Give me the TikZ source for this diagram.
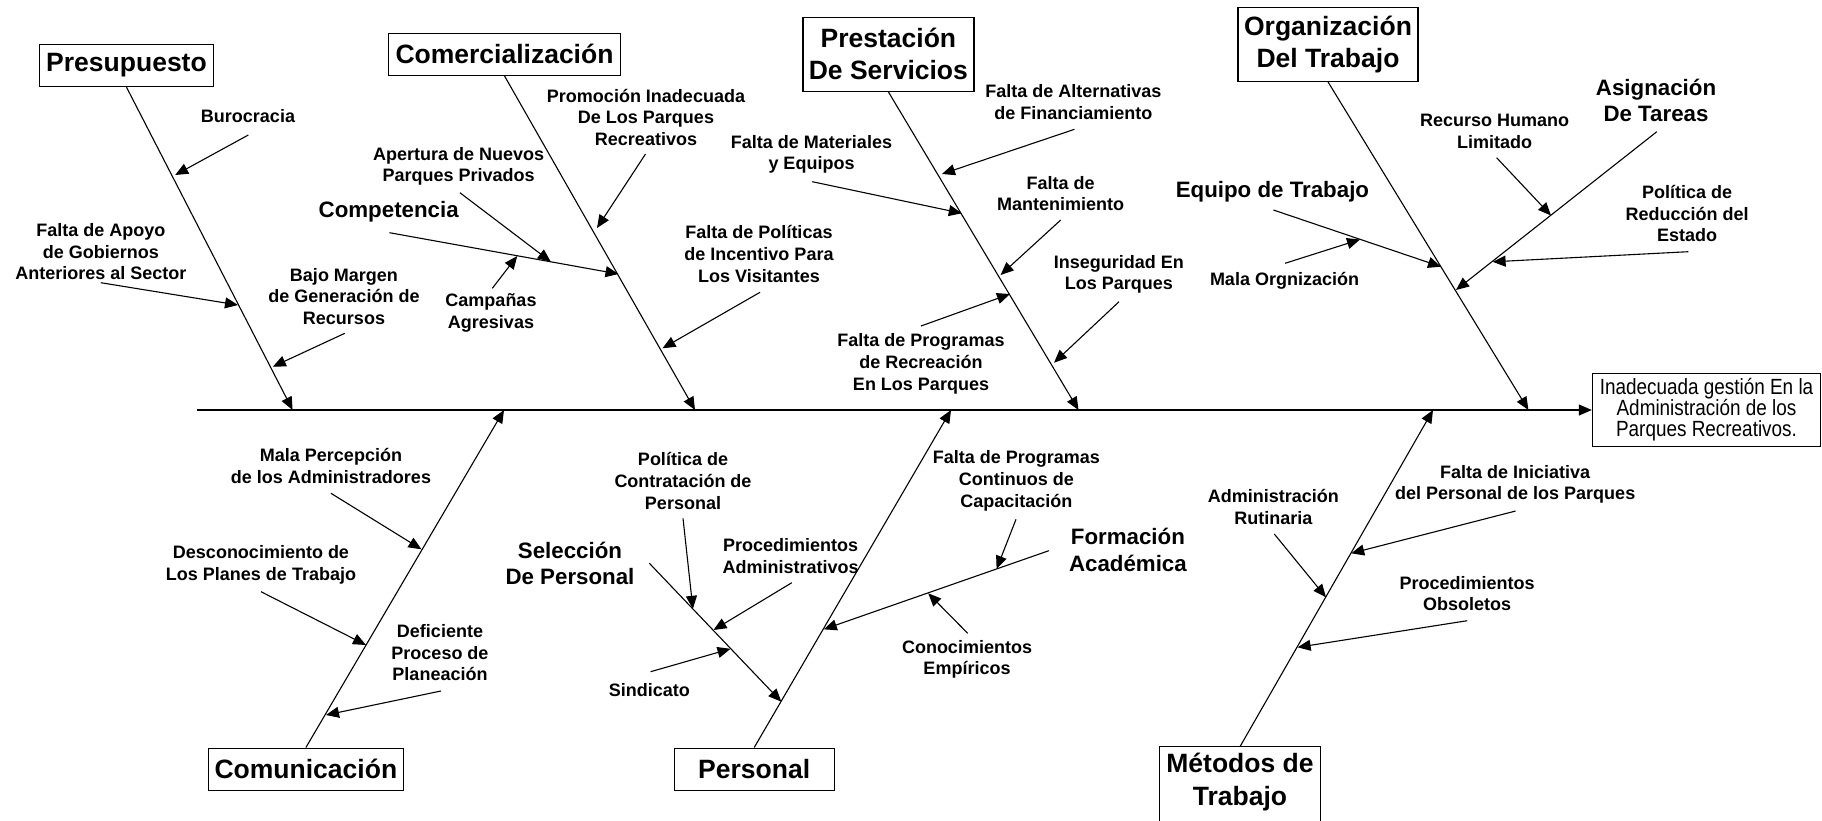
\documentclass[tikz,border=0pt]{standalone}
\usepackage{fontspec}
\setmainfont{Liberation Sans}
\newfontfamily\narrowfont[FakeStretch=0.86]{Liberation Sans}
\usetikzlibrary{arrows.meta}
\begin{document}
\begin{tikzpicture}[x=1pt,y=-1pt,
  catbox/.style={draw, line width=1.4pt, inner sep=0pt, align=center,
    font=\fontsize{26.5}{32}\selectfont\bfseries},
  subcat/.style={inner sep=0pt, align=center, font=\fontsize{22.3}{26.7}\selectfont\bfseries},
  cause/.style={inner sep=0pt, align=center, font=\fontsize{18}{21.7}\selectfont\bfseries},
  bone/.style={line width=1.1pt, -{Triangle[length=13pt,width=11pt]}},
]
\useasboundingbox (0,0) rectangle (1822,820);

% ---------- effect and spine ----------
\node[draw, line width=1.4pt, minimum width=228pt, minimum height=73pt, inner sep=0pt,
      align=center, font=\narrowfont\fontsize{22}{21}\selectfont] (eff) at (1706.5,410)
      {Inadecuada gestión En la\\Administración de los\\Parques Recreativos.};
\coordinate (spineStart) at (197,410);
\draw[bone] (spineStart) -- (eff.west);

% ---------- category boxes ----------
\node[catbox, minimum width=174pt, minimum height=42pt] (pres) at (126.5,65.5) {Presupuesto};
\node[catbox, minimum width=232pt, minimum height=42pt] (comer) at (504.5,54.2) {Comercialización};
\node[catbox, minimum width=171pt, minimum height=74pt] (prest) at (888.4,54.2) {Prestación\\De Servicios};
\node[catbox, minimum width=180pt, minimum height=74pt] (org) at (1328,44.2) {Organización\\Del Trabajo};
\node[catbox, minimum width=195pt, minimum height=42pt] (comu) at (305.9,769.2) {Comunicación};
\node[catbox, minimum width=160pt, minimum height=42pt] (pers) at (754.2,769.2) {Personal};
\node[catbox, draw=none, minimum width=160pt, minimum height=70pt, font=\fontsize{26.5}{33}\selectfont\bfseries]
      (met) at (1240,782.3) {Métodos de\\Trabajo};
\draw[line width=1.4pt] ([yshift=-30pt]met.south west) -- (met.north west) -- (met.north east)
      -- ([yshift=-30pt]met.south east);

% ---------- main bones ----------
\coordinate (presTip) at (292.6,410);
\coordinate (comerTip) at (695,410);
\coordinate (prestTip) at (1078.5,410);
\coordinate (orgTip) at (1528.4,410);
\coordinate (comuTip) at (504,410);
\coordinate (persTip) at (951,410);
\coordinate (metTip) at (1433,410);
\draw[bone] (pres.south) -- (presTip);
\draw[bone] (comer.south) -- (comerTip);
\draw[bone] (prest.south) -- (prestTip);
\draw[bone] (org.south) -- (orgTip);
\draw[bone] (comu.north) -- (comuTip);
\draw[bone] (pers.north) -- (persTip);
\draw[bone] (met.north) -- (metTip);

% ---------- Presupuesto ----------
\node[cause] (buro) at (248,116) {Burocracia};
\node[cause] (apoyo) at (100.8,251.7) {Falta de Apoyo\\de Gobiernos\\Anteriores al Sector};
\node[cause] (bajo) at (344,296.3) {Bajo Margen\\de Generación de\\Recursos};
\coordinate (buroA) at (248.3,135);   \coordinate (buroB) at (175.2,175);
\coordinate (apoyoA) at (100.8,282.7); \coordinate (apoyoB) at (238,305);
\coordinate (bajoA) at (344.8,333.3);  \coordinate (bajoB) at (272.8,366.7);
\draw[bone] (buroA) -- (buroB);
\draw[bone] (apoyoA) -- (apoyoB);
\draw[bone] (bajoA) -- (bajoB);

% ---------- Comercialización ----------
\node[cause] (promo) at (646,117.4) {Promoción Inadecuada\\De Los Parques\\Recreativos};
\node[cause] (apert) at (458.7,166.4) {Apertura de Nuevos\\Parques Privados};
\node[subcat] (compe) at (388.7,211.7) {Competencia};
\node[cause] (campa) at (491,313) {Campañas\\Agresivas};
\node[cause] (incent) at (759,254.1) {Falta de Políticas\\de Incentivo Para\\Los Visitantes};
\coordinate (promoA) at (645.5,154);   \coordinate (promoB) at (597,228);
\coordinate (apertA) at (459.9,192.7); \coordinate (apertB) at (550.8,261.7);
\coordinate (compeA) at (389.5,232.7); \coordinate (compeB) at (618.5,274);
\coordinate (campaA) at (492.3,288.3); \coordinate (campaB) at (517.2,256);
\coordinate (incentA) at (760,292.3);  \coordinate (incentB) at (662.5,348.3);
\draw[bone] (promoA) -- (promoB);
\draw[bone] (apertA) -- (apertB);
\draw[bone] (compeA) -- (compeB);
\draw[bone] (campaA) -- (campaB);
\draw[bone] (incentA) -- (incentB);

% ---------- Prestación de Servicios ----------
\node[cause] (alter) at (1073.3,101.9) {Falta de Alternativas\\de Financiamiento};
\node[cause] (mater) at (811.5,154.2) {Falta de Materiales\\y Equipos};
\node[cause] (mante) at (1060.7,193.7) {Falta de\\Mantenimiento};
\node[cause] (inseg) at (1118.8,274.2) {Inseguridad En\\Los Parques};
\node[cause] (recre) at (921,363.7) {Falta de Programas\\de Recreación\\En Los Parques};
\coordinate (alterA) at (1074.5,129.3); \coordinate (alterB) at (942,174);
\coordinate (materA) at (812.3,181.7);  \coordinate (materB) at (961.8,213.3);
\coordinate (manteA) at (1060.7,220);   \coordinate (manteB) at (1000.6,275);
\coordinate (insegA) at (1119,301.7);   \coordinate (insegB) at (1054,362.7);
\coordinate (recreA) at (921,326);      \coordinate (recreB) at (1010,294);
\draw[bone] (alterA) -- (alterB);
\draw[bone] (materA) -- (materB);
\draw[bone] (manteA) -- (manteB);
\draw[bone] (insegA) -- (insegB);
\draw[bone] (recreA) -- (recreB);

% ---------- Organización del Trabajo ----------
\node[subcat] (equipo) at (1272.4,191.7) {Equipo de Trabajo};
\node[cause] (malaorg) at (1284.5,281) {Mala Orgnización};
\node[subcat] (asign) at (1656,100.3) {Asignación\\De Tareas};
\node[cause] (recur) at (1494.6,131.2) {Recurso Humano\\Limitado};
\node[cause] (reduc) at (1687,213.7) {Política de\\Reducción del\\Estado};
\coordinate (equipoA) at (1273.4,210);   \coordinate (equipoB) at (1441,266.7);
\coordinate (malaorgA) at (1285,263.3);  \coordinate (malaorgB) at (1360,239.5);
\coordinate (asignA) at (1656.8,131.7);  \coordinate (asignB) at (1456,290);
\coordinate (recurA) at (1496.6,157.7);  \coordinate (recurB) at (1551,215.5);
\coordinate (reducA) at (1688.3,251.7);  \coordinate (reducB) at (1492.6,261.8);
\draw[bone] (equipoA) -- (equipoB);
\draw[bone] (malaorgA) -- (malaorgB);
\draw[bone] (asignA) -- (asignB);
\draw[bone] (recurA) -- (recurB);
\draw[bone] (reducA) -- (reducB);

% ---------- Comunicación ----------
\node[cause] (percep) at (331,465.9) {Mala Percepción\\de los Administradores};
\node[cause] (desco) at (261,565) {Desconocimiento de\\Los Planes de Trabajo};
\node[cause] (defic) at (440,652.6) {Deficiente\\Proceso de\\Planeación};
\coordinate (percepA) at (331,493.3);  \coordinate (percepB) at (421.5,549.3);
\coordinate (descoA) at (261,591.7);   \coordinate (descoB) at (366,645);
\coordinate (deficA) at (440.9,691);   \coordinate (deficB) at (326,715);
\draw[bone] (percepA) -- (percepB);
\draw[bone] (descoA) -- (descoB);
\draw[bone] (deficA) -- (deficB);

% ---------- Personal ----------
\node[subcat] (selec) at (570,563.4) {Selección\\De Personal};
\node[cause] (contra) at (683,481) {Política de\\Contratación de\\Personal};
\node[cause] (padm) at (790.6,555.9) {Procedimientos\\Administrativos};
\node[cause] (sindi) at (649.4,690) {Sindicato};
\node[cause] (capac) at (1016.4,481) {Falta de Programas\\Continuos de\\Capacitación};
\node[subcat] (forma) at (1127.9,550) {Formación\\Académica};
\node[cause] (empir) at (967,659.2) {Conocimientos\\Empíricos};
\coordinate (selecA) at (649.4,563.3);  \coordinate (selecB) at (781.3,701.7);
\coordinate (contraA) at (683,518.3);   \coordinate (contraB) at (692.9,608.8);
\coordinate (padmA) at (791.8,582.7);   \coordinate (padmB) at (713.5,630);
\coordinate (sindiA) at (650.6,671.7);  \coordinate (sindiB) at (730.5,648.8);
\coordinate (formaA) at (1048.8,550.7); \coordinate (formaB) at (823.8,629.3);
\coordinate (capacA) at (1016,519.3);   \coordinate (capacB) at (996.6,568.9);
\coordinate (empirA) at (967.7,633.3);  \coordinate (empirB) at (928.2,593.3);
\draw[bone] (selecA) -- (selecB);
\draw[bone] (contraA) -- (contraB);
\draw[bone] (padmA) -- (padmB);
\draw[bone] (sindiA) -- (sindiB);
\draw[bone] (formaA) -- (formaB);
\draw[bone] (capacA) -- (capacB);
\draw[bone] (empirA) -- (empirB);

% ---------- Métodos de Trabajo ----------
\node[cause] (inic) at (1515.2,484.2) {Falta de Iniciativa\\del Personal de los Parques};
\node[cause] (rutin) at (1273.4,507.3) {Administración\\Rutinaria};
\node[cause] (obsol) at (1467.2,593.7) {Procedimientos\\Obsoletos};
\coordinate (inicA) at (1515.6,511);   \coordinate (inicB) at (1351.2,553.3);
\coordinate (rutinA) at (1274.3,534);  \coordinate (rutinB) at (1326,597.3);
\coordinate (obsolA) at (1467.2,620.7); \coordinate (obsolB) at (1297.6,647.3);
\draw[bone] (inicA) -- (inicB);
\draw[bone] (rutinA) -- (rutinB);
\draw[bone] (obsolA) -- (obsolB);
\end{tikzpicture}
\end{document}
